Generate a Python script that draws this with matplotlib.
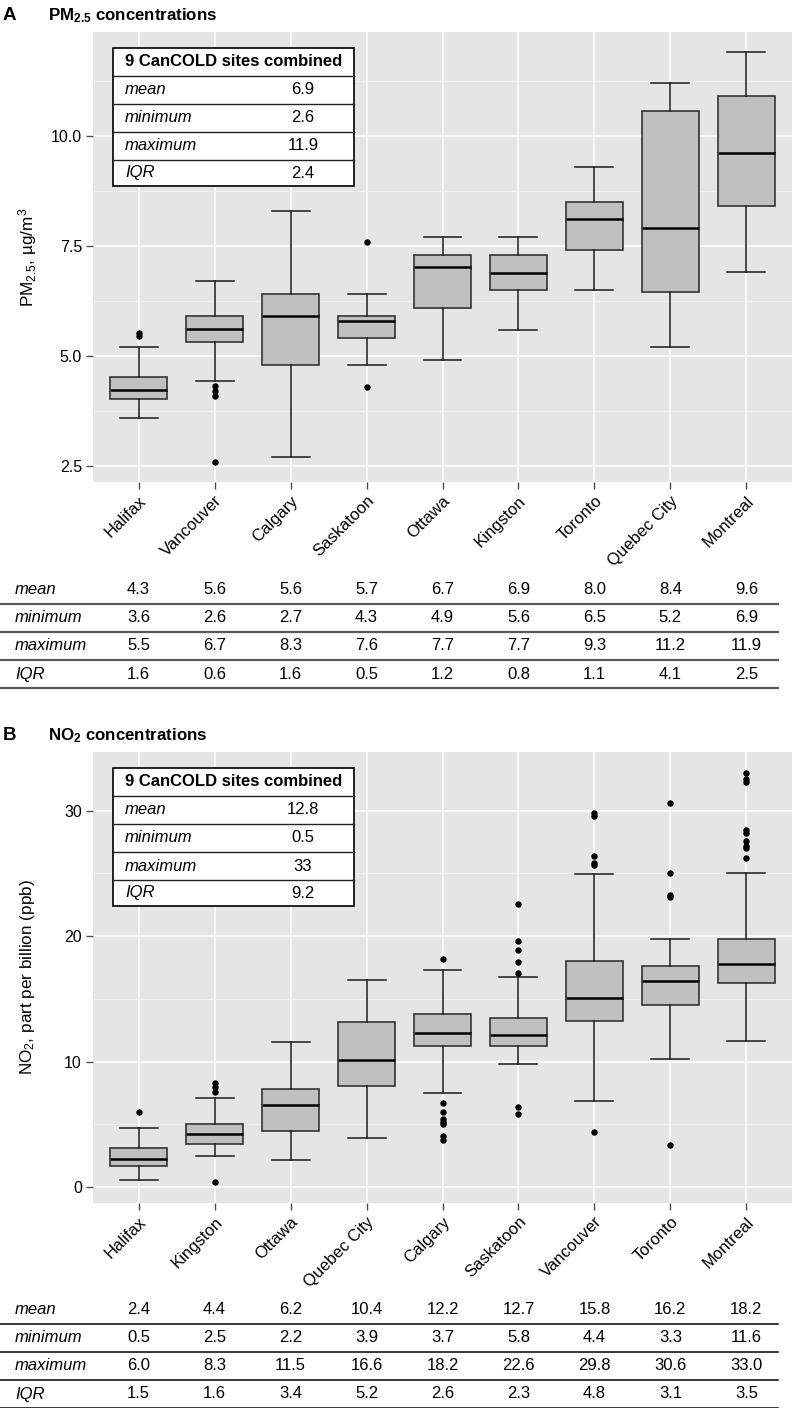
import matplotlib
matplotlib.use("Agg")
import matplotlib.pyplot as plt
from matplotlib.transforms import blended_transform_factory
from matplotlib.lines import Line2D
from matplotlib.patches import Rectangle
from matplotlib.ticker import MultipleLocator

plt.rcParams['font.family'] = ['Liberation Sans', 'DejaVu Sans']
plt.rcParams['mathtext.fontset'] = 'custom'
plt.rcParams['mathtext.rm'] = 'Liberation Sans'
plt.rcParams['mathtext.it'] = 'Liberation Sans:italic'
plt.rcParams['mathtext.bf'] = 'Liberation Sans:bold'

# ---------------- Data: panel A (PM2.5) ----------------
pm_sites = ["Halifax", "Vancouver", "Calgary", "Saskatoon", "Ottawa",
            "Kingston", "Toronto", "Quebec City", "Montreal"]
pm_whislo = [3.6, 4.42, 2.7, 4.8, 4.9, 5.6, 6.5, 5.2, 6.9]
pm_q1 = [4.02, 5.31, 4.8, 5.40, 6.1, 6.5, 7.40, 6.45, 8.42]
pm_med = [4.23, 5.61, 5.92, 5.79, 7.02, 6.89, 8.11, 7.92, 9.61]
pm_q3 = [4.52, 5.91, 6.4, 5.91, 7.30, 7.30, 8.51, 10.56, 10.91]
pm_whishi = [5.2, 6.7, 8.3, 6.4, 7.7, 7.7, 9.3, 11.2, 11.9]
pm_fliers = [[5.46, 5.52], [4.31, 4.20, 4.10, 2.6], [], [4.3, 7.6],
             [], [], [], [], []]
pm_mean = [4.3, 5.6, 5.6, 5.7, 6.7, 6.9, 8.0, 8.4, 9.6]
pm_min = [3.6, 2.6, 2.7, 4.3, 4.9, 5.6, 6.5, 5.2, 6.9]
pm_max = [5.5, 6.7, 8.3, 7.6, 7.7, 7.7, 9.3, 11.2, 11.9]
pm_iqr = [1.6, 0.6, 1.6, 0.5, 1.2, 0.8, 1.1, 4.1, 2.5]
pm_overall = [6.9, 2.6, 11.9, 2.4]
pm_yticks = [2.5, 5.0, 7.5, 10.0]
pm_yticklabels = ["2.5", "5.0", "7.5", "10.0"]

# ---------------- Data: panel B (NO2) ----------------
no2_sites = ["Halifax", "Kingston", "Ottawa", "Quebec City", "Calgary",
             "Saskatoon", "Vancouver", "Toronto", "Montreal"]
no2_whislo = [0.56, 2.52, 2.20, 3.95, 7.51, 9.82, 6.9, 10.18, 11.65]
no2_q1 = [1.65, 3.45, 4.49, 8.04, 11.22, 11.22, 13.24, 14.51, 16.31]
no2_med = [2.28, 4.25, 6.52, 10.16, 12.31, 12.12, 15.09, 16.44, 17.77]
no2_q3 = [3.10, 5.01, 7.80, 13.18, 13.82, 13.5, 18.06, 17.61, 19.79]
no2_whishi = [4.70, 7.14, 11.54, 16.55, 17.32, 16.71, 24.93, 19.79, 25.04]
no2_fliers = [[6.02],
              [7.59, 7.96, 8.33, 0.37],
              [],
              [],
              [18.2, 6.68, 6.02, 5.44, 5.23, 5.01, 4.11, 3.72],
              [22.6, 19.63, 18.89, 17.93, 17.03, 6.42, 5.81],
              [29.8, 29.55, 26.4, 25.85, 25.7, 4.43],
              [30.63, 25.04, 23.31, 23.15, 3.32],
              [33.05, 32.5, 32.33, 28.48, 28.24, 27.58, 27.16, 27.0, 26.25]]
no2_mean = [2.4, 4.4, 6.2, 10.4, 12.2, 12.7, 15.8, 16.2, 18.2]
no2_min = [0.5, 2.5, 2.2, 3.9, 3.7, 5.8, 4.4, 3.3, 11.6]
no2_max = [6.0, 8.3, 11.5, 16.6, 18.2, 22.6, 29.8, 30.6, 33.0]
no2_iqr = [1.5, 1.6, 3.4, 5.2, 2.6, 2.3, 4.8, 3.1, 3.5]
no2_overall = [12.8, 0.5, 33, 9.2]
no2_yticks = [0, 10, 20, 30]
no2_yticklabels = ["0", "10", "20", "30"]

row_names = ["mean", "minimum", "maximum", "IQR"]

# ---------------- Figure ----------------
W, H = 792, 1408
fig = plt.figure(figsize=(W / 100, H / 100), dpi=100)


def fx(px):
    return px / W


def fy(py):
    return 1 - py / H


def panel(top, bottom, sites, lo, q1, med, q3, hi, fliers, yticks, yticklabels,
          ylabel, letter, title, overall, table_rows, inset_top, table_y, line_color, line_w):
    ax = fig.add_axes([fx(93), fy(bottom), fx(W - 93), (bottom - top) / H])
    ax.set_facecolor('#E5E5E5')
    for s in ax.spines.values():
        s.set_visible(False)
    pos = list(range(1, len(sites) + 1))
    stats = [dict(whislo=lo[i], q1=q1[i], med=med[i], q3=q3[i], whishi=hi[i],
                  fliers=fliers[i]) for i in range(len(sites))]
    ax.bxp(stats, positions=pos, widths=0.75, capwidths=0.5, patch_artist=True,
           showfliers=True,
           boxprops=dict(facecolor='#BFBFBF', edgecolor='#333333', linewidth=1.2),
           medianprops=dict(color='black', linewidth=1.8),
           whiskerprops=dict(color='#1a1a1a', linewidth=1.1),
           capprops=dict(color='#1a1a1a', linewidth=1.1),
           flierprops=dict(marker='o', markersize=3.6, markerfacecolor='black',
                           markeredgecolor='black'))
    allv = lo + hi + [v for f in fliers for v in f]
    vmin, vmax = min(allv), max(allv)
    pad = (vmax - vmin) * 0.05
    ax.set_ylim(vmin - pad, vmax + pad)
    ax.set_xlim(0.4, len(sites) + 0.6)
    ax.set_axisbelow(True)
    ax.set_yticks(yticks)
    ax.set_yticklabels(yticklabels)
    step = yticks[1] - yticks[0]
    ax.yaxis.set_minor_locator(MultipleLocator(step / 2))
    ax.grid(which='major', color='white', linewidth=1.1)
    ax.grid(which='minor', axis='y', color='#F2F2F2', linewidth=0.6)
    ax.tick_params(which='minor', length=0)
    ax.tick_params(which='major', length=5, width=1, color='#4D4D4D',
                   labelsize=11.5, labelcolor='black', pad=3)
    ax.set_xticks(pos)
    ax.set_xticklabels(sites, rotation=45, ha='right', va='top',
                       rotation_mode='anchor', fontsize=12)
    # ylabel
    fig.text(fx(28), fy((top + bottom) / 2), ylabel, rotation=90,
             ha='center', va='center', fontsize=12.3)
    # titles
    fig.text(fx(3), fy(top - 12), letter, fontsize=13.5, weight='bold', va='baseline')
    fig.text(fx(48), fy(top - 12), title, fontsize=12.2, weight='bold', va='baseline')
    # inset table
    x0, x1 = 113, 354
    rows = [inset_top + 28 * k for k in range(5)] + [inset_top + 138]
    fig.add_artist(Rectangle((fx(x0), fy(rows[-1])), fx(x1 - x0), (rows[-1] - rows[0]) / H,
                             transform=fig.transFigure, facecolor='white',
                             edgecolor='black', linewidth=1.2, zorder=5))
    for r in rows[1:-1]:
        fig.add_artist(Line2D([fx(x0), fx(x1)], [fy(r), fy(r)], transform=fig.transFigure,
                              color='#222222', linewidth=1.0, zorder=6))
    fig.text(fx((x0 + x1) / 2), fy((rows[0] + rows[1]) / 2), "9 CanCOLD sites combined",
             ha='center', va='center', fontsize=12, weight='bold', zorder=7)
    for k, name in enumerate(row_names):
        yc = fy((rows[k + 1] + rows[k + 2]) / 2)
        fig.text(fx(125), yc, name, ha='left', va='center', fontsize=12,
                 style='italic', zorder=7)
        fig.text(fx(303), yc, "{:g}".format(overall[k]), ha='center', va='center',
                 fontsize=12, zorder=7)
    # bottom table
    trans = blended_transform_factory(ax.transData, fig.transFigure)
    for k, name in enumerate(row_names):
        yc = table_y + 28 * k
        fig.text(fx(15), fy(yc), name, ha='left', va='center', fontsize=12, style='italic')
        for i, v in enumerate(table_rows[k]):
            fig.text(pos[i], fy(yc), "{:.1f}".format(v), ha='center', va='center',
                     fontsize=12, transform=trans)
        ly = yc + 14
        fig.add_artist(Line2D([0, fx(778)], [fy(ly), fy(ly)], transform=fig.transFigure,
                              color=line_color, linewidth=line_w))
    return ax


panel(32, 482, pm_sites, pm_whislo, pm_q1, pm_med, pm_q3, pm_whishi, pm_fliers,
      pm_yticks, pm_yticklabels, r"PM$_{2.5}$, µg/m$^3$", "A",
      r"PM$_{\mathbf{2.5}}$ concentrations", pm_overall,
      [pm_mean, pm_min, pm_max, pm_iqr], 48, 590, '#5a5a5a', 1.6)

panel(752, 1203, no2_sites, no2_whislo, no2_q1, no2_med, no2_q3, no2_whishi, no2_fliers,
      no2_yticks, no2_yticklabels, r"NO$_2$, part per billion (ppb)", "B",
      r"NO$_{\mathbf{2}}$ concentrations", no2_overall,
      [no2_mean, no2_min, no2_max, no2_iqr], 768, 1310, 'black', 1.1)

fig.savefig("out.png", dpi=100)
